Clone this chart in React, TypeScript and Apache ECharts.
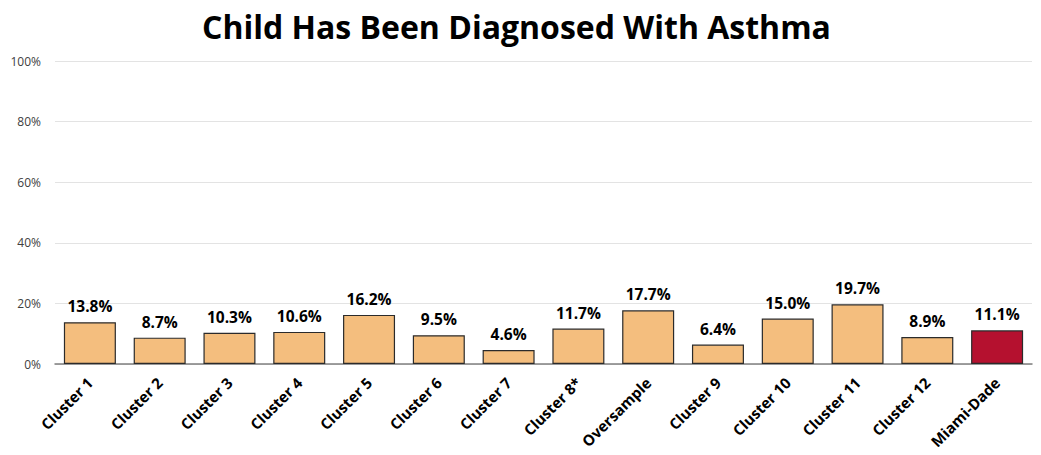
import React, { useEffect, useRef } from "react";
import * as echarts from "echarts";

const categories = ["Cluster 1", "Cluster 2", "Cluster 3", "Cluster 4", "Cluster 5", "Cluster 6", "Cluster 7", "Cluster 8*", "Oversample", "Cluster 9", "Cluster 10", "Cluster 11", "Cluster 12", "Miami-Dade"];
const values = [13.8, 8.7, 10.3, 10.6, 16.2, 9.5, 4.6, 11.7, 17.7, 6.4, 15.0, 19.7, 8.9, 11.1];
const highlight = "Miami-Dade";

export default function App() {
  const ref = useRef<HTMLDivElement>(null);
  useEffect(() => {
    if (!ref.current) return;
    const chart = echarts.init(ref.current, null, { renderer: "svg" });
    chart.setOption({
      animation: false,
      title: {
        text: "Child Has Been Diagnosed With Asthma",
        left: 202,
        top: 10,
        padding: 0,
        textStyle: { fontFamily: "Open Sans", fontWeight: "bold", fontSize: 32, color: "#000" },
      },
      grid: { left: 55, right: 9, top: 61, bottom: 91, outerBoundsMode: "none", containLabel: false },
      xAxis: {
        type: "category",
        data: categories,
        axisTick: { show: false },
        axisLine: { lineStyle: { color: "#7f7f7f", width: 1.5 } },
        axisLabel: {
          rotate: 45,
          interval: 0,
          fontFamily: "Open Sans",
          fontWeight: "bold",
          fontSize: 15,
          color: "#000",
          margin: 16,
        },
      },
      yAxis: {
        type: "value",
        min: 0,
        max: 100,
        interval: 20,
        axisLabel: { formatter: "{value}%", fontFamily: "Open Sans", fontSize: 12, color: "#404040", margin: 14 },
        splitLine: { lineStyle: { color: "#e3e3e3" } },
        axisLine: { show: false },
        axisTick: { show: false },
      },
      series: [
        {
          type: "bar",
          barWidth: 52,
          data: values.map((v, i) => ({
            value: v,
            itemStyle: { color: categories[i] === highlight ? "#B5112F" : "#F4BE7E" },
          })),
          itemStyle: { borderColor: "#2b2b2b", borderWidth: 1.2 },
          label: {
            show: true,
            position: "top",
            distance: 8,
            formatter: (p: any) => p.value.toFixed(1) + "%",
            fontFamily: "Open Sans",
            fontWeight: "bold",
            fontSize: 15.5,
            color: "#000",
          },
        },
      ],
    });
    return () => chart.dispose();
  }, []);
  return <div ref={ref} style={{ width: 1041, height: 455, margin: -8 }} />;
}
